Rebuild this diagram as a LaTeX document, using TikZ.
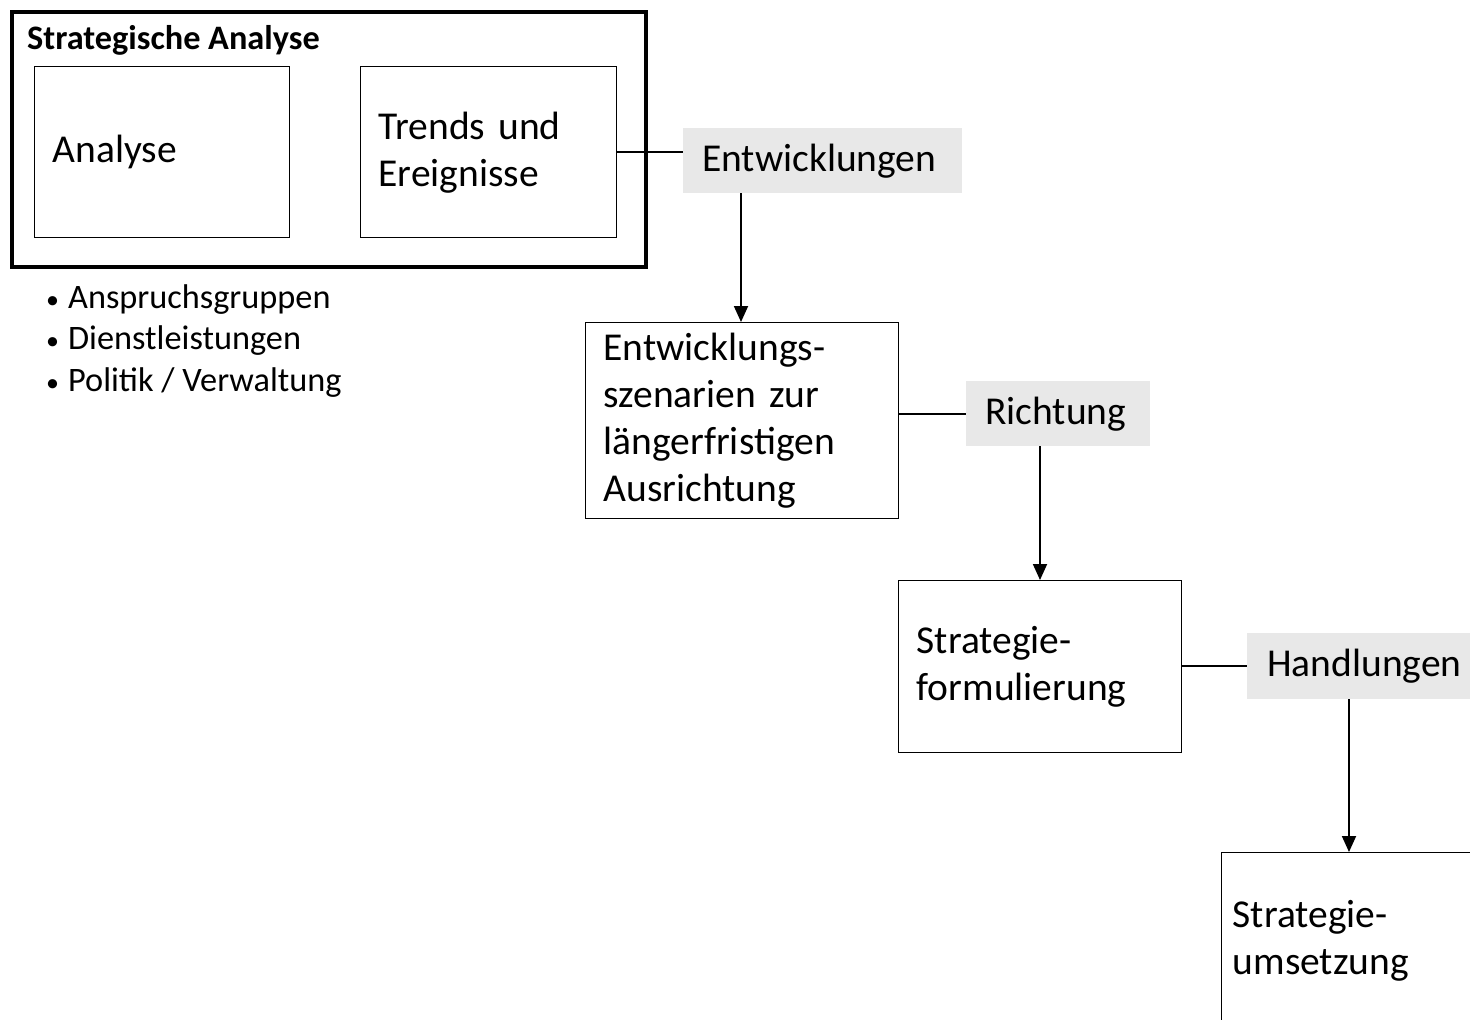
\documentclass[tikz,border=0pt]{standalone}
\usepackage{fontspec}
\setmainfont{Carlito}
\usetikzlibrary{arrows.meta}
\begin{document}
\begin{tikzpicture}[x=1pt,y=-1pt,
  big/.style={font=\fontsize{39.5}{47}\selectfont},
  box/.style={draw, line width=1.4pt, big, align=left, inner xsep=18pt, inner ysep=0pt, anchor=north west},
  lbl/.style={fill=black!9, big, inner ysep=0pt, anchor=north west, align=left},
  conn/.style={line width=1.8pt},
  arr/.style={line width=1.8pt, -{Triangle[width=14pt,length=16pt]}}
]
\clip (0,0) rectangle (1470,1020);
\fill[white] (0,0) rectangle (1470,1020);
% outer frame
\node[draw, line width=4pt, minimum width=634pt, minimum height=255pt, anchor=north west, inner sep=0pt] (outer) at (10,10) {};
\node[font=\fontsize{34.3}{38}\selectfont\bfseries, anchor=west, inner sep=0pt] (title) at (27,40) {Strategische Analyse};
\node[box, minimum width=255pt, minimum height=171pt, text width=219pt] (analyse) at (34,66) {\raisebox{-3pt}{Analyse}};
\node[box, minimum width=256pt, minimum height=171pt, text width=220pt] (trends) at (360,66) {Trends und\\Ereignisse};
% bullets
\node[font=\fontsize{34.3}{41.5}\selectfont, align=left, anchor=north west, inner sep=0pt] (bullets) at (46,284) {{\fontsize{26}{26}\selectfont\textbullet}\hspace{9pt}Anspruchsgruppen\\{\fontsize{26}{26}\selectfont\textbullet}\hspace{9pt}Dienstleistungen\\{\fontsize{26}{26}\selectfont\textbullet}\hspace{9pt}Politik / Verwaltung};
% labels
\node[lbl, minimum width=279pt, minimum height=65pt, text width=241pt, inner xsep=19pt] (entw) at (683,128) {\raisebox{-2pt}{Entwicklungen}};
\node[box, minimum width=313pt, minimum height=196pt, text width=277pt] (szen) at (585,322) {Entwicklungs-\\szenarien zur\\längerfristigen\\Ausrichtung};
\node[lbl, minimum width=184pt, minimum height=65pt, text width=146pt, inner xsep=19pt] (richt) at (966,381) {\raisebox{-2pt}{Richtung}};
\node[lbl, minimum width=240pt, minimum height=66pt, text width=200pt, inner xsep=20pt] (handl) at (1247,633) {\raisebox{-2pt}{Handlungen}};
\node[box, minimum width=283pt, minimum height=172pt, text width=247pt] (form) at (898,580) {Strategie-\\formulierung};
\node[box, minimum width=283pt, minimum height=176pt, text width=261pt, inner xsep=11pt] (umset) at (1221,852) {Strategie-\\umsetzung};
% connectors
\draw[conn] (trends.east) -- (trends.east -| entw.west);
\draw[conn] (szen.east |- richt.west) -- (richt.west);
\draw[conn] (form.east |- handl.west) -- (handl.west);
\coordinate (a1) at (741,193);
\coordinate (a2) at (1040,446);
\coordinate (a3) at (1349,699);
\draw[arr] (a1) -- (a1 |- szen.north);
\draw[arr] (a2) -- (a2 |- form.north);
\draw[arr] (a3) -- (a3 |- umset.north);
\end{tikzpicture}
\end{document}
